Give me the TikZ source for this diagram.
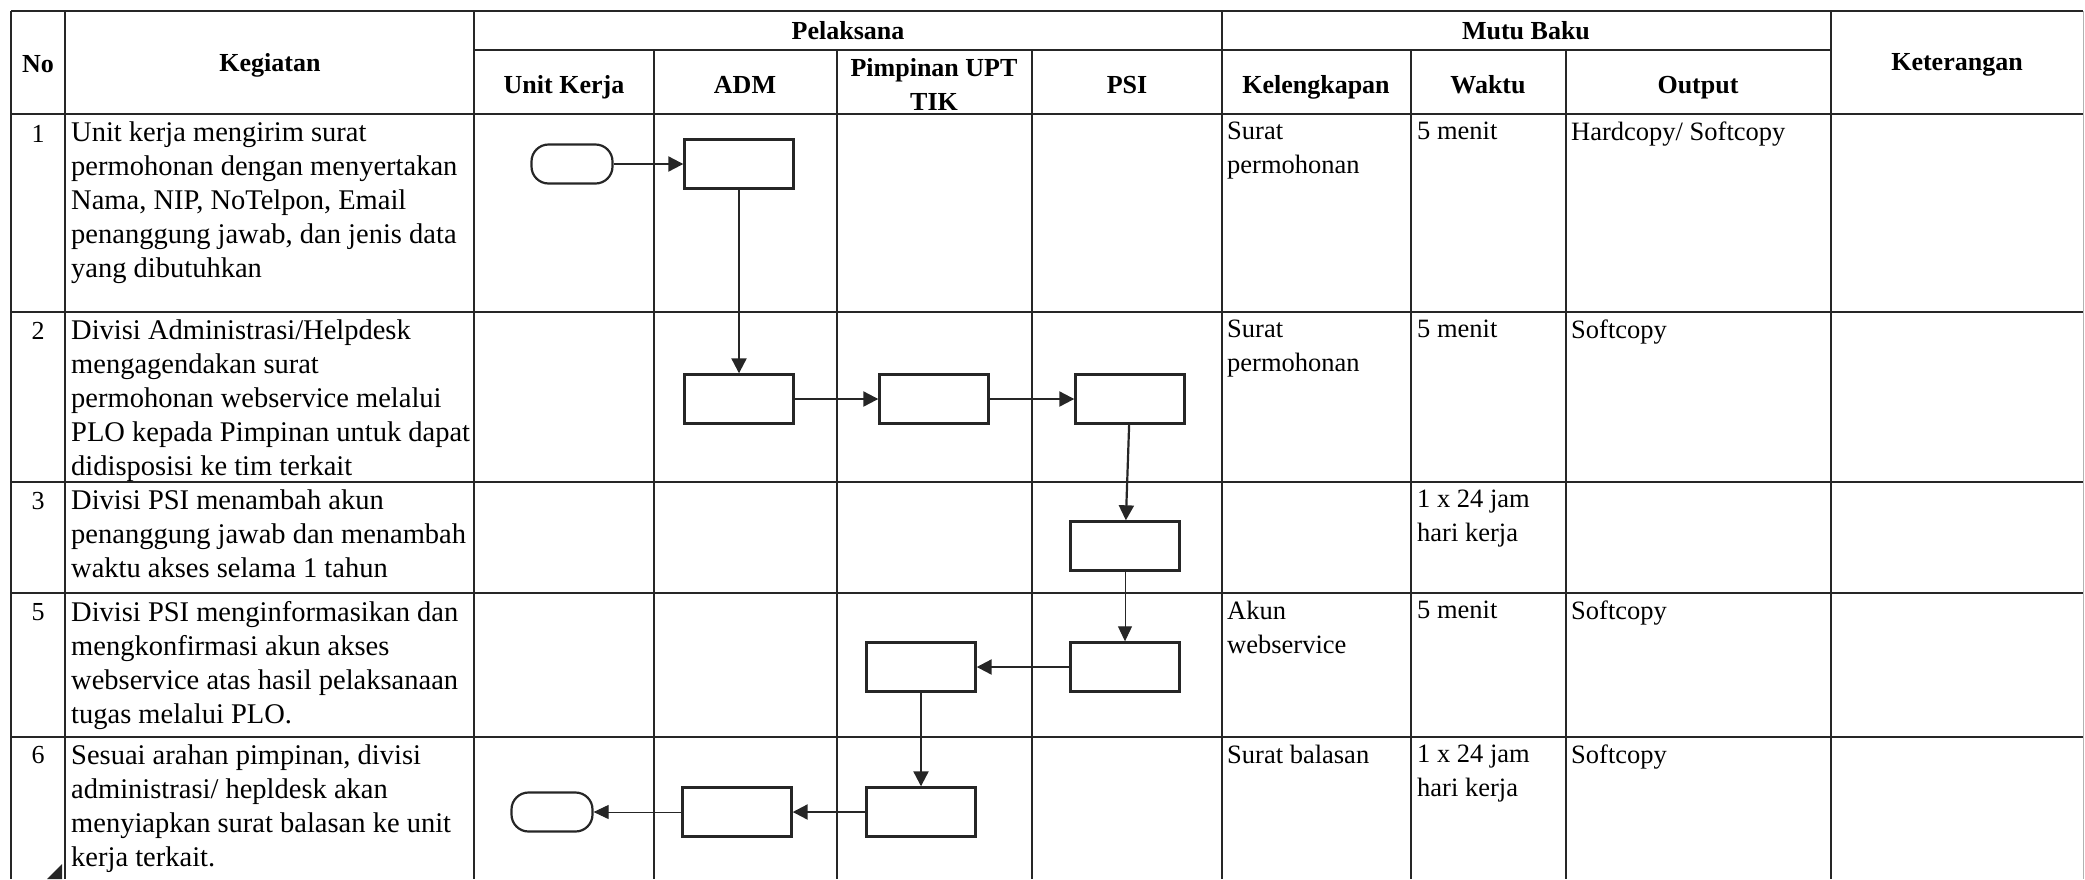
\documentclass[tikz,border=0pt]{standalone}
\usepackage{fontspec}
\setmainfont{Liberation Serif}
\usetikzlibrary{shapes.geometric, arrows.meta}
\tikzstyle{grid} = [line width=2.4pt, draw=black!85]
\tikzstyle{head} = [anchor=base, inner sep=0pt, align=center, font=\fontsize{26}{34}\selectfont\bfseries]
\tikzstyle{nomor} = [anchor=base, inner sep=0pt, font=\fontsize{26}{34}\selectfont]
\tikzstyle{kegiatan} = [anchor=north west, inner sep=0pt, align=left, font=\fontsize{28.5}{34}\selectfont]
\tikzstyle{mutu} = [anchor=north west, inner sep=0pt, align=left, font=\fontsize{26.5}{34}\selectfont]
\tikzstyle{process} = [rectangle, minimum width=109pt, minimum height=49pt, draw=black!85, line width=2.4pt]
\tikzstyle{startstop} = [rectangle, rounded corners=17pt, minimum width=81pt, minimum height=39pt, draw=black!85, line width=2.2pt]
\tikzstyle{arrow} = [line width=2.2pt, draw=black!85, -{Triangle[length=15pt,width=15pt]}]
\tikzstyle{thinarrow} = [line width=1pt, draw=black!85, -{Triangle[length=15pt,width=14pt]}]
\begin{document}
\begin{tikzpicture}[x=1pt, y=-1pt]
\useasboundingbox (0,0) rectangle (2085,879);

% table grid
\draw [grid] (11,11) -- (2083,11);
\draw [grid] (474,50) -- (1831,50);
\draw [grid] (11,114) -- (2083,114);
\draw [grid] (11,312) -- (2083,312);
\draw [grid] (11,482) -- (2083,482);
\draw [grid] (11,593) -- (2083,593);
\draw [grid] (11,737) -- (2083,737);
\draw [grid] (11,11) -- (11,879);
\draw [grid] (65,11) -- (65,879);
\draw [grid] (474,11) -- (474,879);
\draw [grid] (654,50) -- (654,879);
\draw [grid] (837,50) -- (837,879);
\draw [grid] (1032,50) -- (1032,879);
\draw [grid] (1222,11) -- (1222,879);
\draw [grid] (1411,50) -- (1411,879);
\draw [grid] (1566,50) -- (1566,879);
\draw [grid] (1831,11) -- (1831,879);
\draw [line width=1pt, draw=black!30] (2083,11) -- (2083,879);

% header
\node (hno) [head] at (38,72) {No};
\node (hkeg) [head] at (270,71) {Kegiatan};
\node (hpel) [head] at (848,39) {Pelaksana};
\node (hmutu) [head] at (1526,39) {Mutu Baku};
\node (hket) [head] at (1957,70) {Keterangan};
\node (hunit) [head] at (564,93) {Unit Kerja};
\node (hadm) [head] at (745,93) {ADM};
\node (hpim) [head, anchor=north] at (934,58) {Pimpinan UPT\\TIK};
\node (hpsi) [head] at (1127,93) {PSI};
\node (hkel) [head] at (1316,93) {Kelengkapan};
\node (hwak) [head] at (1488,93) {Waktu};
\node (hout) [head] at (1698,93) {Output};

% rows
\node (no1) [nomor] at (38,142) {1};
\node (no2) [nomor] at (38,339) {2};
\node (no3) [nomor] at (38,509) {3};
\node (no5) [nomor] at (38,620) {5};
\node (no6) [nomor] at (38,763) {6};
\node (keg1) [kegiatan] at (71,122) {Unit kerja mengirim surat\\permohonan dengan menyertakan\\Nama, NIP, NoTelpon, Email\\penanggung jawab, dan jenis data\\yang dibutuhkan};
\node (keg2) [kegiatan] at (71,320) {Divisi Administrasi/Helpdesk\\mengagendakan surat\\permohonan webservice melalui\\PLO kepada Pimpinan untuk dapat\\didisposisi ke tim terkait};
\node (keg3) [kegiatan] at (71,490) {Divisi PSI menambah akun\\penanggung jawab dan menambah\\waktu akses selama 1 tahun};
\node (keg5) [kegiatan] at (71,601) {Divisi PSI menginformasikan dan\\mengkonfirmasi akun akses\\webservice atas hasil pelaksanaan\\tugas melalui PLO.};
\node (keg6) [kegiatan] at (71,745) {Sesuai arahan pimpinan, divisi\\administrasi/ hepldesk akan\\menyiapkan surat balasan ke unit\\kerja terkait.};

\node (kel1) [mutu] at (1227,122) {Surat\\permohonan};
\node (kel2) [mutu] at (1227,320) {Surat\\permohonan};
\node (kel5) [mutu] at (1227,601) {Akun\\webservice};
\node (kel6) [mutu] at (1227,745) {Surat balasan};
\node (wak1) [mutu] at (1417,122) {5 menit};
\node (wak2) [mutu] at (1417,320) {5 menit};
\node (wak3) [mutu] at (1417,490) {1 x 24 jam\\hari kerja};
\node (wak5) [mutu] at (1417,601) {5 menit};
\node (wak6) [mutu] at (1417,745) {1 x 24 jam\\hari kerja};
\node (out1) [mutu] at (1571,122) {Hardcopy/ Softcopy};
\node (out2) [mutu] at (1571,320) {Softcopy};
\node (out5) [mutu] at (1571,601) {Softcopy};
\node (out6) [mutu] at (1571,745) {Softcopy};

% flow
\node (start) [startstop] at (572,164) {};
\node (adm1) [process] at (739,164) {};
\node (adm2) [process] at (739,399) {};
\node (pim1) [process] at (934,399) {};
\node (psi1) [process] at (1130,399) {};
\node (psi2) [process] at (1125,546) {};
\node (psi3) [process] at (1125,667) {};
\node (pim2) [process] at (921,667) {};
\node (pim3) [process] at (921,812) {};
\node (adm3) [process] at (737,812) {};
\node (stop) [startstop] at (552,812) {};

\draw [arrow] (start) -- (adm1);
\draw [arrow] (adm1) -- (adm2);
\draw [arrow] (adm2) -- (pim1);
\draw [arrow] (pim1) -- (psi1);
\draw [arrow] (psi1) -- (psi2);
\draw [thinarrow] (psi2) -- (psi3);
\draw [arrow] (psi3) -- (pim2);
\draw [arrow] (pim2) -- (pim3);
\draw [arrow] (pim3) -- (adm3);
\draw [thinarrow] (adm3) -- (stop);

\fill [black!85] (47,879) -- (62,864) -- (62,879) -- cycle; % corner mark
\end{tikzpicture}
\end{document}
